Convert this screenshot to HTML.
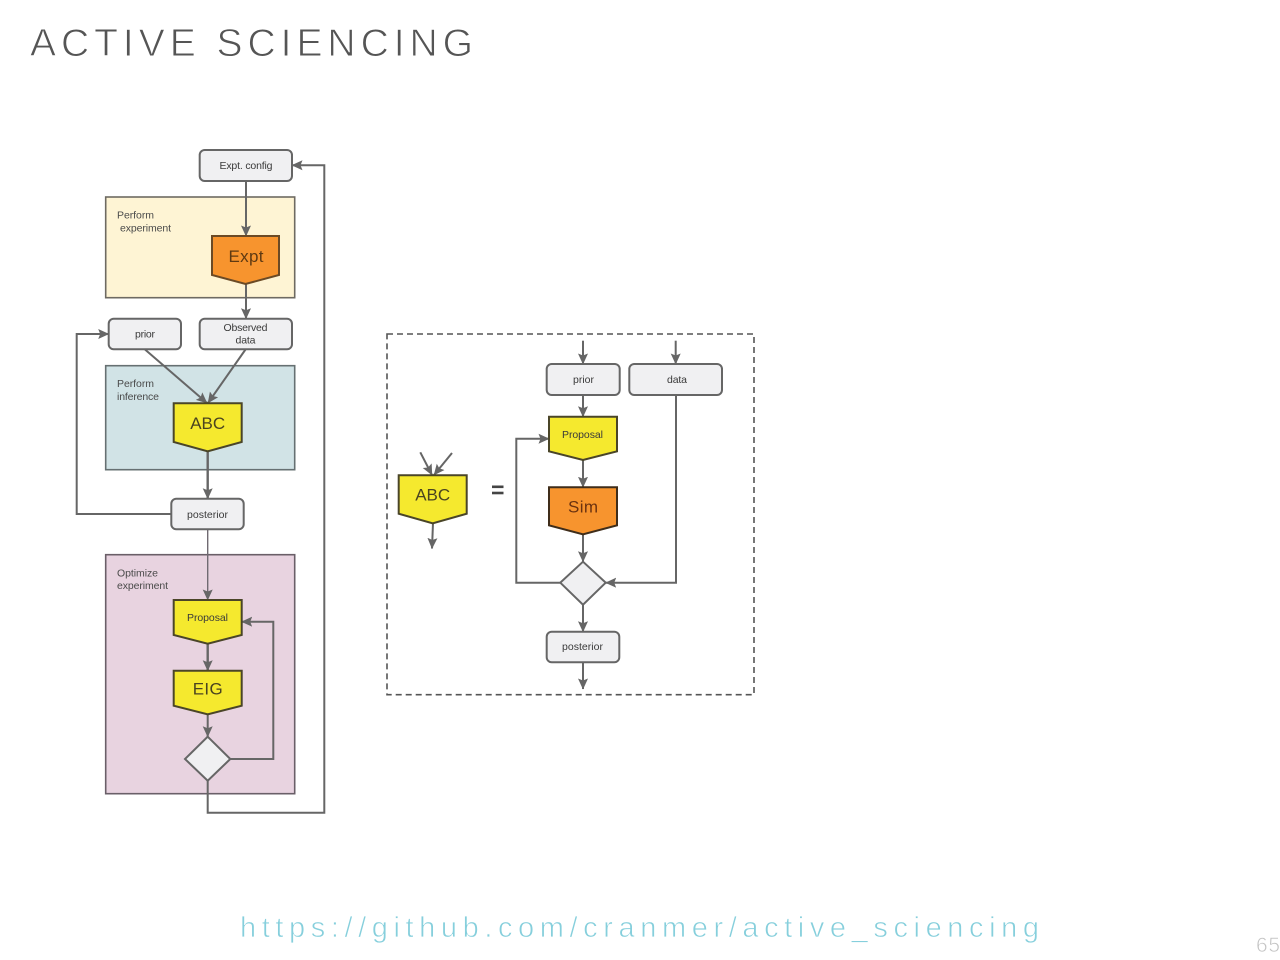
<!DOCTYPE html>
<html>
<head>
<meta charset="utf-8">
<title>Active Sciencing</title>
<style>
html,body{margin:0;padding:0;background:#fff;width:1280px;height:960px;overflow:hidden}
svg{display:block}
text{font-family:"Liberation Sans",sans-serif}
.l{stroke:#666;stroke-width:2;fill:none}
.t{stroke:#706a72;stroke-width:1.4;fill:none}
.box{fill:#f0f0f2;stroke:#666;stroke-width:2}
.ye{fill:#f5e92e;stroke:#4a4528;stroke-width:2}
.or{fill:#f7942e;stroke:#6b4a25;stroke-width:2}
.s{font-size:10.5px;fill:#3a3a3a;text-anchor:middle}
.g{font-size:10.5px;fill:#4a4a4a}
.b{font-size:17px;fill:#4a4420;text-anchor:middle}
.d{filter:blur(0.35px)}
</style>
</head>
<body>
<svg width="1280" height="960" viewBox="0 0 1280 960" xmlns="http://www.w3.org/2000/svg">
<defs>
<marker id="a" markerUnits="userSpaceOnUse" markerWidth="13" markerHeight="13" refX="10.5" refY="5.5" orient="auto">
<path d="M0,0.5 L11,5.5 L0,10.5 L2,5.5 Z" fill="#666"/>
</marker>
</defs>
<rect width="1280" height="960" fill="#fff"/>

<text x="30" y="56" font-size="39" fill="#555" stroke="#fff" stroke-width="0.9" textLength="443" lengthAdjust="spacing">ACTIVE SCIENCING</text>

<g class="d">
<!-- Left diagram groups -->
<rect x="105.7" y="197" width="189" height="100.7" fill="#fef4d4" stroke="#6e6a62" stroke-width="1.6"/>
<rect x="105.7" y="365.7" width="189" height="104" fill="#d1e3e6" stroke="#667072" stroke-width="1.6"/>
<rect x="105.7" y="554.7" width="189" height="239" fill="#e8d3e0" stroke="#6a5f68" stroke-width="1.6"/>

<text class="g" x="117" y="218.5" textLength="37">Perform</text>
<text class="g" x="120" y="231.5" textLength="51">experiment</text>
<text class="g" x="117" y="387" textLength="37">Perform</text>
<text class="g" x="117" y="400" textLength="42">inference</text>
<text class="g" x="117" y="576.5" textLength="41">Optimize</text>
<text class="g" x="117" y="589" textLength="51">experiment</text>

<!-- Left connectors -->
<path class="l" d="M246,181 V236" marker-end="url(#a)"/>
<path class="l" d="M246,284 V318.7" marker-end="url(#a)"/>
<path class="l" d="M145,349.5 L207,403" marker-end="url(#a)"/>
<path class="l" d="M245.5,349.5 L208,403" marker-end="url(#a)"/>
<path class="l" d="M207.7,451 V498.7" style="stroke-width:2.4" marker-end="url(#a)"/>
<path class="l" d="M171.3,514 H76.7 V334 H108.7" marker-end="url(#a)"/>
<path class="t" d="M207.7,529.3 V600" marker-end="url(#a)"/>
<path class="l" d="M207.7,643.7 V670.7" style="stroke-width:2.4" marker-end="url(#a)"/>
<path class="l" d="M207.7,714.3 V736.7" marker-end="url(#a)"/>
<path class="l" d="M230.3,759 H273.3 V621.7 H241.7" marker-end="url(#a)"/>
<path class="t" d="M207.7,780.7 V812.7 H324.3 V165.3 H292" style="stroke:#666;stroke-width:2" marker-end="url(#a)"/>

<!-- Left nodes -->
<rect class="box" x="199.7" y="150" width="92.3" height="31" rx="5"/>
<text class="s" x="246" y="169" textLength="53">Expt. config</text>
<path class="or" d="M212,236 H279 V275 L245.5,284 L212,275 Z"/>
<text class="b" x="246" y="262" style="fill:#5f3a12" textLength="35">Expt</text>
<rect class="box" x="108.7" y="318.7" width="72.3" height="30.6" rx="5"/>
<text class="s" x="145" y="337.5" textLength="20">prior</text>
<rect class="box" x="199.7" y="318.7" width="92.3" height="30.6" rx="5"/>
<text class="s" x="245.5" y="331" textLength="44">Observed</text>
<text class="s" x="245.5" y="343.5" textLength="20">data</text>
<path class="ye" d="M173.7,403.3 H241.7 V442 L207.7,451.3 L173.7,442 Z"/>
<text class="b" x="207.7" y="429" textLength="35">ABC</text>
<rect class="box" x="171.3" y="498.7" width="72.4" height="30.6" rx="5"/>
<text class="s" x="207.5" y="518" textLength="41">posterior</text>
<path class="ye" d="M173.7,600 H241.7 V635 L207.7,643.7 L173.7,635 Z"/>
<text class="s" x="207.5" y="621" textLength="41">Proposal</text>
<path class="ye" d="M173.7,670.7 H241.7 V705.7 L207.7,714.3 L173.7,705.7 Z"/>
<text class="b" x="207.7" y="694.5" textLength="30">EIG</text>
<path d="M207.7,736.7 L230.3,759 L207.7,780.7 L185,759 Z" fill="#f0f0f2" stroke="#666" stroke-width="2"/>

<!-- Right dashed frame -->
<rect x="387" y="334" width="367" height="360.7" fill="none" stroke="#555" stroke-width="1.6" stroke-dasharray="6 4"/>

<!-- Right connectors -->
<path class="l" d="M583,340.7 V364" marker-end="url(#a)"/>
<path class="l" d="M675.7,340.7 V364" marker-end="url(#a)"/>
<path class="l" d="M583,395 V416.7" marker-end="url(#a)"/>
<path class="l" d="M583,460 V487.3" marker-end="url(#a)"/>
<path class="l" d="M583,534.3 V561.7" marker-end="url(#a)"/>
<path class="l" d="M560.3,582.7 H516.3 V438.7 H549" marker-end="url(#a)"/>
<path class="l" d="M676,395 V582.7 H605.7" marker-end="url(#a)"/>
<path class="l" d="M583,604.7 V631.7" marker-end="url(#a)"/>
<path class="l" d="M583,662.3 V689" marker-end="url(#a)"/>
<path class="l" d="M420.3,452.3 L432,475" marker-end="url(#a)"/>
<path class="l" d="M452,453 L434,475" marker-end="url(#a)"/>
<path class="l" d="M433,523 L432,548.5" marker-end="url(#a)"/>

<!-- Right nodes -->
<rect class="box" x="546.7" y="364" width="73" height="31" rx="5"/>
<text class="s" x="583.5" y="383" textLength="21">prior</text>
<rect class="box" x="629.3" y="364" width="92.7" height="31" rx="5"/>
<text class="s" x="677" y="383" textLength="20">data</text>
<path class="ye" d="M549,416.7 H617 V451.3 L583,460 L549,451.3 Z"/>
<text class="s" x="582.5" y="438" textLength="41">Proposal</text>
<path class="or" d="M549,487.3 H617 V525.3 L583,534.3 L549,525.3 Z" style="stroke:#3f2d1a"/>
<text class="b" x="583" y="512.5" style="fill:#6a3210" textLength="30">Sim</text>
<path d="M583,561.7 L605.7,582.7 L583,604.7 L560.3,582.7 Z" fill="#f0f0f2" stroke="#666" stroke-width="2"/>
<rect class="box" x="546.7" y="631.7" width="72.6" height="30.6" rx="5"/>
<text class="s" x="582.5" y="650" textLength="41">posterior</text>
<path class="ye" d="M398.7,475.3 H466.7 V513.7 L432.7,523.3 L398.7,513.7 Z"/>
<text class="b" x="432.7" y="500.5" textLength="35">ABC</text>
<rect x="492" y="485.5" width="11.5" height="2.6" fill="#444"/>
<rect x="492" y="491.7" width="11.5" height="2.6" fill="#444"/>
</g>

<text x="240" y="937" font-size="29" fill="#86cfdc" stroke="#fff" stroke-width="0.7" textLength="799" lengthAdjust="spacing">https://github.com/cranmer/active_sciencing</text>
<text x="1256" y="952" font-size="21" fill="#c4c4c4" stroke="#fff" stroke-width="0.6" textLength="24">65</text>
</svg>
</body>
</html>
